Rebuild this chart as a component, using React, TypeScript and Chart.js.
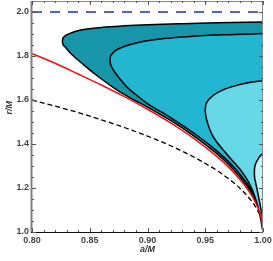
import React, { useEffect, useRef } from 'react';
import { Chart, registerables } from 'chart.js';

Chart.register(...registerables);

// ---- tick labels ----
const xTicks = [0.8, 0.85, 0.9, 0.95, 1.0];
const yTicks = [1.0, 1.2, 1.4, 1.6, 1.8, 2.0];

// ---- region boundaries [a/M, r/M], each from the left tip to a/M = 1 ----
const outerUpper = [
  [0.8263, 1.868], [0.8266, 1.878], [0.8275, 1.886], [0.83, 1.896], [0.8345, 1.906],
  [0.8388, 1.914], [0.848, 1.923], [0.86, 1.93], [0.88, 1.937], [0.9, 1.942],
  [0.93, 1.947], [0.96, 1.951], [1.0, 1.955],
];
const outerLower = [
  [0.8263, 1.868], [0.8266, 1.857], [0.8286, 1.842], [0.833, 1.815], [0.8445, 1.761],
  [0.859, 1.7], [0.8735, 1.646], [0.885, 1.61], [0.9, 1.568], [0.92, 1.507],
  [0.94, 1.437], [0.96, 1.356], [0.97, 1.308], [0.98, 1.25], [0.99, 1.178],
  [0.995, 1.125], [0.999, 1.055], [1.0, 1.0],
];
const midUpper = [
  [0.8675, 1.782], [0.8678, 1.795], [0.869, 1.807], [0.8719, 1.823], [0.876, 1.835],
  [0.885, 1.852], [0.894, 1.864], [0.911, 1.877], [0.93, 1.886], [0.946, 1.892],
  [0.97, 1.897], [1.0, 1.902],
];
const midLower = [
  [0.8675, 1.782], [0.8679, 1.765], [0.8693, 1.747], [0.872, 1.724], [0.876, 1.697],
  [0.883, 1.655], [0.89, 1.624], [0.9, 1.584], [0.92, 1.52], [0.94, 1.45],
  [0.96, 1.369], [0.97, 1.321], [0.98, 1.263], [0.99, 1.19], [0.995, 1.137],
  [0.999, 1.064], [1.0, 1.0],
];
const lightUpper = [
  [0.95, 1.555], [0.9503, 1.572], [0.9515, 1.59], [0.954, 1.607], [0.958, 1.625],
  [0.965, 1.645], [0.975, 1.663], [0.987, 1.678], [1.0, 1.688],
];
const lightLower = [
  [0.95, 1.555], [0.9503, 1.535], [0.9515, 1.505], [0.954, 1.465], [0.957, 1.432],
  [0.961, 1.402], [0.966, 1.37], [0.975, 1.316], [0.982, 1.272], [0.988, 1.222],
  [0.993, 1.16], [0.997, 1.085], [1.0, 1.0],
];
const palestUpper = [
  [0.9925, 1.272], [0.9927, 1.29], [0.9935, 1.308], [0.995, 1.325], [0.997, 1.342],
  [1.0, 1.358],
];
const palestLower = [
  [0.9925, 1.272], [0.9927, 1.25], [0.9935, 1.228], [0.995, 1.19], [0.9965, 1.15],
  [0.998, 1.11], [1.0, 1.06],
];

// ---- curves ----
const photonA = [0.8, 0.82, 0.84, 0.86, 0.88, 0.9, 0.92, 0.94, 0.96, 0.97, 0.98, 0.99, 0.995, 0.999, 1.0];
const photonR = [1.811, 1.767, 1.718, 1.668, 1.615, 1.558, 1.496, 1.426, 1.344, 1.296, 1.239, 1.168, 1.117, 1.051, 1.0];
const horizonA = [0.8, 0.82, 0.84, 0.86, 0.88, 0.9, 0.92, 0.94, 0.96, 0.97, 0.98, 0.99, 0.995, 0.999, 1.0];
const horizonR = [1.6, 1.572, 1.543, 1.51, 1.475, 1.436, 1.392, 1.341, 1.28, 1.243, 1.199, 1.141, 1.1, 1.045, 1.0];
const staticA = [0.8, 1.0];
const staticR = [2.0, 2.0];

const COLORS = {
  outer: '#1796a9',
  mid: '#22b6d1',
  light: '#66d8e7',
  palest: '#c4f3f6',
};

const Y_TITLE = 'r/M';
const X_TITLE = 'a/M';

const pts = (arr: number[][]) => arr.map(([x, y]) => ({ x, y }));
const zipPts = (xs: number[], ys: number[]) => xs.map((x, i) => ({ x, y: ys[i] }));

const FONT = 'Liberation Sans, Arial, sans-serif';

const framePlugin = {
  id: 'frameTicks',
  afterDatasetsDraw(chart: any) {
    const { ctx, chartArea: ca, scales } = chart;
    const xs = scales.x;
    const ys = scales.y;
    ctx.save();
    // frame
    ctx.lineWidth = 1;
    ctx.strokeStyle = '#8a8a8a';
    ctx.beginPath();
    ctx.moveTo(ca.left, ca.top + 0.5);
    ctx.lineTo(ca.right, ca.top + 0.5);
    ctx.moveTo(ca.right - 0.5, ca.top);
    ctx.lineTo(ca.right - 0.5, ca.bottom);
    ctx.stroke();
    ctx.lineWidth = 2;
    ctx.strokeStyle = '#808080';
    ctx.beginPath();
    ctx.moveTo(ca.left - 0.5, ca.top);
    ctx.lineTo(ca.left - 0.5, ca.bottom + 0.5);
    ctx.stroke();
    ctx.lineWidth = 1;
    ctx.strokeStyle = '#111';
    ctx.beginPath();
    ctx.moveTo(ca.left - 1, ca.bottom + 0.5);
    ctx.lineTo(ca.right, ca.bottom + 0.5);
    ctx.stroke();
    // ticks
    ctx.lineWidth = 1;
    ctx.strokeStyle = '#555';
    ctx.beginPath();
    for (let i = 0; i <= 20; i++) {
      const v = 0.8 + i * 0.01;
      const major = i % 5 === 0;
      const len = major ? 4 : 2;
      const px = Math.round(xs.getPixelForValue(v)) + 0.5;
      ctx.moveTo(px, ca.bottom);
      ctx.lineTo(px, ca.bottom - len);
      ctx.moveTo(px, ca.top);
      ctx.lineTo(px, ca.top + len);
    }
    for (let i = 0; i <= 21; i++) {
      const v = 1.0 + i * 0.05;
      const major = i % 4 === 0;
      const len = major ? 4 : 2;
      const py = Math.round(ys.getPixelForValue(v)) + 0.5;
      if (py < ca.top || py > ca.bottom + 1) continue;
      ctx.moveTo(ca.left, py);
      ctx.lineTo(ca.left + len, py);
      ctx.moveTo(ca.right, py);
      ctx.lineTo(ca.right - len, py);
    }
    ctx.stroke();
    // y axis title
    ctx.fillStyle = '#333';
    ctx.font = `italic bold 9px ${FONT}`;
    ctx.textAlign = 'center';
    ctx.textBaseline = 'middle';
    ctx.translate(10, ys.getPixelForValue(1.565));
    ctx.rotate(-Math.PI / 2);
    ctx.fillText(Y_TITLE, 0, 0);
    ctx.restore();
  },
};

export default function App() {
  const ref = useRef<HTMLCanvasElement | null>(null);

  useEffect(() => {
    document.body.style.margin = '0';
    const canvas = ref.current;
    if (!canvas) return;

    const line = {
      showLine: true,
      borderColor: '#000',
      borderWidth: 1.5,
      pointRadius: 0,
      cubicInterpolationMode: 'monotone' as const,
    };

    const region = (upper: number[][], lower: number[][], color: string, order: number) => [
      { ...line, data: pts(upper), fill: false, order },
      { ...line, data: pts(lower), backgroundColor: color, fill: '-1', order },
    ];

    const datasets: any[] = [
      ...region(outerUpper, outerLower, COLORS.outer, 10),
      ...region(midUpper, midLower, COLORS.mid, 8),
      ...region(lightUpper, lightLower, COLORS.light, 6),
      ...region(palestUpper, palestLower, COLORS.palest, 4),
      {
        ...line,
        data: zipPts(horizonA, horizonR),
        borderWidth: 1.3,
        borderDash: [5, 3],
        fill: false,
        order: 2,
      },
      {
        ...line,
        data: zipPts(photonA, photonR),
        borderColor: '#ee1111',
        fill: false,
        order: 1,
      },
      {
        ...line,
        data: zipPts(staticA, staticR),
        borderColor: '#1a2fc0',
        borderDash: [10, 8],
        fill: false,
        order: 0,
      },
    ];

    const tickFont = { family: FONT, size: 9, weight: 'bold' as const };
    const titleFont = { family: FONT, size: 9, weight: 'bold' as const, style: 'italic' as const };

    const chart = new Chart(canvas, {
      type: 'scatter',
      data: { datasets },
      plugins: [framePlugin],
      options: {
        animation: false,
        responsive: false,
        devicePixelRatio: 1,
        layout: { padding: { top: 1, right: 10, left: 0, bottom: 0 } },
        plugins: { legend: { display: false }, tooltip: { enabled: false } },
        scales: {
          x: {
            type: 'linear',
            min: 0.8,
            max: 1.0,
            afterBuildTicks: (axis: any) => {
              axis.ticks = xTicks.map((v) => ({ value: v }));
            },
            afterFit: (s: any) => {
              s.height = 29;
              s.paddingLeft = 0;
              s.paddingRight = 0;
            },
            grid: { display: false, drawTicks: false },
            border: { display: false },
            ticks: {
              font: tickFont,
              color: '#444',
              padding: 3,
              maxRotation: 0,
              callback: (v: any) => Number(v).toFixed(2),
            },
            title: {
              display: true,
              text: X_TITLE,
              font: titleFont,
              color: '#333',
              padding: { top: 0, bottom: 6 },
            },
          },
          y: {
            type: 'linear',
            min: 1.0,
            max: 2.05,
            afterBuildTicks: (axis: any) => {
              axis.ticks = yTicks.map((v) => ({ value: v }));
            },
            afterFit: (s: any) => {
              s.width = 32;
              s.paddingTop = 0;
              s.paddingBottom = 0;
            },
            grid: { display: false, drawTicks: false },
            border: { display: false },
            ticks: {
              font: tickFont,
              color: '#444',
              padding: 3,
              callback: (v: any) => Number(v).toFixed(1),
            },
          },
        },
      },
    });

    return () => chart.destroy();
  }, []);

  return (
    <div style={{ width: 273, height: 261 }}>
      <canvas ref={ref} width={273} height={261} />
    </div>
  );
}
